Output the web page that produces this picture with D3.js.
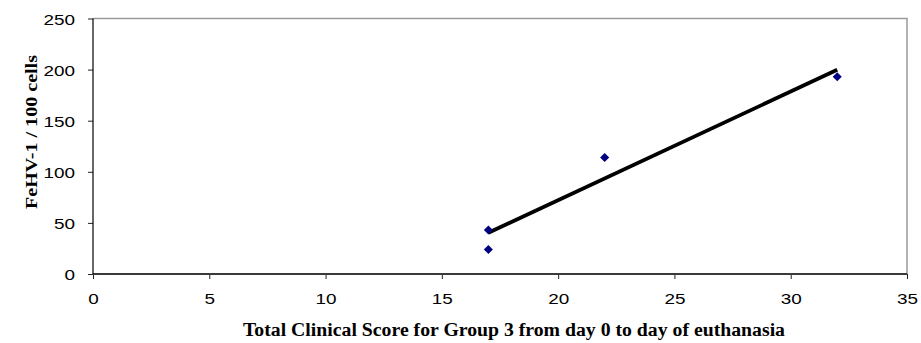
<!DOCTYPE html>
<html>
<head>
<meta charset="utf-8">
<script src="https://cdn.jsdelivr.net/npm/d3@7"></script>
<style>
  body { margin: 0; background: #fff; }
  svg { display: block; }
</style>
</head>
<body>
<div class="chart"></div>
<script>
const width = 921;
const height = 343;
const margin = { top: 18.5, right: 14, bottom: 69, left: 93 };

// data
const scores = [17, 17, 22, 32];
const cells = [43, 24, 114, 193];
const xTicks = [0, 5, 10, 15, 20, 25, 30, 35];
const yTicks = [0, 50, 100, 150, 200, 250];

const points = scores.map((s, i) => ({ x: s, y: cells[i] }));

// least squares trend line
const mx = d3.mean(scores);
const my = d3.mean(cells);
const slope = d3.sum(points, d => (d.x - mx) * (d.y - my)) / d3.sum(points, d => (d.x - mx) ** 2);
const icpt = my - slope * mx;
const xMin = d3.min(scores);
const xMax = d3.max(scores);
const trend = [
    { x: xMin, y: icpt + slope * xMin },
    { x: xMax, y: icpt + slope * xMax }
];

// the original picture is a bit stretched sideways
const stretch = 1.22;

const svg = d3.select('.chart')
    .append('svg')
    .attr('width', width)
    .attr('height', height);

const x = d3.scaleLinear()
    .domain([0, 35])
    .range([margin.left, width - margin.right]);

const y = d3.scaleLinear()
    .domain([0, 250])
    .range([height - margin.bottom, margin.top]);

// frame (top and right sides, gray)
svg.append('path')
    .attr('d', `M${x(0)},${y(250)}H${x(35)}V${y(0)}`)
    .attr('fill', 'none')
    .attr('stroke', '#9a9a9a')
    .attr('stroke-width', 1.5);

const xAxis = svg.append('g')
    .attr('transform', `translate(0,${y(0)})`)
    .call(d3.axisBottom(x).tickValues(xTicks).tickSize(5));

xAxis.select('.domain').remove();
xAxis.append('line')
    .attr('x1', x(0)).attr('x2', x(35))
    .attr('stroke', '#3a3a3a')
    .attr('stroke-width', 2);

xAxis.selectAll('.tick text')
    .attr('y', 0)
    .attr('dy', 0)
    .attr('transform', `translate(0,30) scale(${stretch},1)`);

const yAxis = svg.append('g')
    .attr('transform', `translate(${x(0)},0)`)
    .call(d3.axisLeft(y).tickValues(yTicks).tickSize(5));

yAxis.select('.domain').remove();
yAxis.append('line')
    .attr('y1', y(0)).attr('y2', y(250))
    .attr('stroke', '#000')
    .attr('stroke-width', 1.2);

yAxis.selectAll('.tick text')
    .attr('x', 0)
    .attr('dy', '0.36em')
    .attr('transform', `translate(-18,0) scale(${stretch},1)`);

svg.selectAll('.tick line')
    .attr('stroke', '#222')
    .attr('stroke-width', 1);

svg.selectAll('.tick text')
    .attr('font-family', 'Liberation Sans, Arial, sans-serif')
    .attr('font-size', 15.5)
    .attr('fill', '#000');

// trend line
svg.append('line')
    .attr('x1', x(trend[0].x)).attr('y1', y(trend[0].y))
    .attr('x2', x(trend[1].x)).attr('y2', y(trend[1].y))
    .attr('stroke', '#000')
    .attr('stroke-width', 3.8);

// diamonds
svg.selectAll('path.pt')
    .data(points)
    .enter()
    .append('path')
    .attr('class', 'pt')
    .attr('d', d3.symbol().type(d3.symbolDiamond2).size(52))
    .attr('transform', d => `translate(${x(d.x)},${y(d.y)})`)
    .attr('fill', '#000080');

// axis titles
svg.append('text')
    .attr('x', 514)
    .attr('y', 335.5)
    .attr('text-anchor', 'middle')
    .attr('font-family', 'Liberation Serif, Times New Roman, serif')
    .attr('font-weight', 'bold')
    .attr('font-size', 18)
    .attr('textLength', 542)
    .attr('lengthAdjust', 'spacingAndGlyphs')
    .text('Total Clinical Score for Group 3 from day 0 to day of euthanasia');

svg.append('text')
    .attr('transform', 'translate(37,132) rotate(-90)')
    .attr('text-anchor', 'middle')
    .attr('font-family', 'Liberation Serif, Times New Roman, serif')
    .attr('font-weight', 'bold')
    .attr('font-size', 16.5)
    .attr('textLength', 154)
    .attr('lengthAdjust', 'spacingAndGlyphs')
    .text('FeHV-1 / 100 cells');
</script>
</body>
</html>
